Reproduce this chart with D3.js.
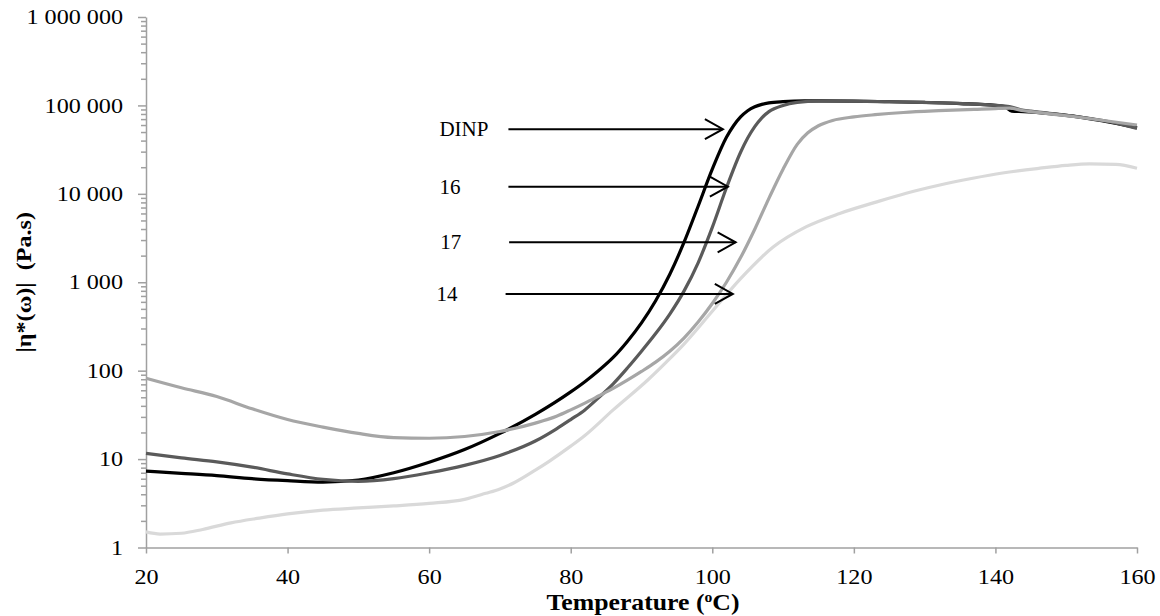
<!DOCTYPE html>
<html>
<head>
<meta charset="utf-8">
<script src="https://cdn.jsdelivr.net/npm/d3@7"></script>
<style>
  body { margin: 0; background: #fff; }
  svg { display: block; font-family: "Liberation Serif", "Times New Roman", serif; }
</style>
</head>
<body>
<div class="chart-container"></div>
<script>
// temperature (°C) and complex viscosity (Pa.s)
const dinpTemp = [20, 25, 30, 35, 40, 45, 50, 55, 60, 65, 70, 75, 80, 82, 84, 86, 88, 90, 92, 94, 96, 98, 100, 102, 103, 104, 105, 106, 107, 108, 110, 113, 120, 125, 130, 135, 140, 141.3, 142.3, 144, 150, 155, 160];
const dinpEta = [7.3, 6.9, 6.5, 6.0, 5.7, 5.5, 5.8, 7.0, 9.2, 12.8, 19.5, 32, 57.5, 75, 101, 141, 214, 347, 617, 1230, 2820, 7240, 19000, 43600, 58900, 74100, 87100, 96600, 102800, 106700, 110400, 112700, 112000, 110000, 108000, 105000, 100000, 97000, 86000, 85000, 77000, 67000, 56000];

const s16Temp = [20, 25, 30, 35, 40, 45, 50, 55, 60, 65, 70, 75, 78, 80, 82, 84, 86, 88, 90, 92, 94, 96, 98, 100, 102, 104, 105, 106, 107, 108, 110, 112, 115, 118, 125, 132, 140, 142, 144, 145, 151, 155, 160];
const s16Eta = [11.6, 10.3, 9.3, 8.1, 6.8, 5.9, 5.6, 6.0, 7.0, 8.5, 11, 16, 22, 28, 36, 50, 71, 107, 166, 263, 437, 794, 1660, 4170, 11700, 29500, 42700, 57500, 72400, 85100, 100000, 108000, 112000, 112000, 110000, 107000, 100000, 97000, 88000, 86000, 76000, 68000, 55000];

const s17Temp = [20, 25, 30, 35, 40, 45, 50, 55, 60, 65, 70, 75, 78, 80, 82, 84, 86, 88, 90, 92, 94, 96, 98, 100, 102, 104, 106, 108, 110, 112, 113.5, 115, 117, 120, 123, 127, 132, 137, 140, 142, 144, 145, 151, 155, 160];
const s17Eta = [82, 64, 51, 37, 28, 23, 19.5, 17.5, 17.2, 18, 20.5, 25.5, 30.5, 36, 43, 52, 63, 78, 98, 125, 166, 234, 355, 575, 1000, 1900, 3980, 8900, 19000, 36300, 49000, 58900, 67600, 74100, 78500, 83200, 87100, 90200, 92200, 93000, 87000, 85000, 75000, 68000, 60000];

const s14Temp = [20, 22, 25, 28, 32, 36, 40, 45, 50, 55, 60, 65, 68, 70, 72, 75, 77, 80, 82, 86, 91, 93.5, 96, 100, 104, 108.6, 113.3, 118, 123, 127.4, 132, 136.8, 141, 146.3, 150, 153.3, 157, 160];
const s14Eta = [1.5, 1.42, 1.45, 1.6, 1.9, 2.15, 2.4, 2.65, 2.8, 2.95, 3.15, 3.5, 4.1, 4.6, 5.4, 7.5, 9.5, 14, 18.5, 36, 80, 125, 200, 470, 1100, 2500, 4250, 6000, 8000, 10150, 12500, 15000, 17200, 19500, 21000, 21800, 21500, 19500];

// annotation arrows: label, eta level, start and tip temperature
const arrowLabels = ["DINP", "16", "17", "14"];
const arrowEta = [53800, 12050, 2830, 738];
const arrowFrom = [71.2, 71.2, 71.3, 70.8];
const arrowTo = [101.5, 102.2, 103.3, 102.9];

const xTicks = [20, 40, 60, 80, 100, 120, 140, 160];
const yTicks = [1, 10, 100, 1000, 10000, 100000, 1000000];

const series = [
  { name: "DINP", temp: dinpTemp, eta: dinpEta, color: "#000000" },
  { name: "16", temp: s16Temp, eta: s16Eta, color: "#5a5a5a" },
  { name: "17", temp: s17Temp, eta: s17Eta, color: "#a6a6a6" },
  { name: "14", temp: s14Temp, eta: s14Eta, color: "#d9d9d9" }
];

const width = 1160, height = 616;
const axisColor = "#a0a0a0";
const stretch = 1.15; // tick labels in the original are a bit wider than Liberation Serif

const svg = d3.select(".chart-container")
  .append("svg")
  .attr("width", width)
  .attr("height", height);

const x = d3.scaleLinear().domain([20, 160]).range([146, 1137]);
const y = d3.scaleLog().domain([1, 1e6]).range([547.5, 17]);

const spaced = d3.formatLocale({ decimal: ".", thousands: " ", grouping: [3], currency: ["", ""] }).format(",d");

// minor ticks on the log axis
const minorTicks = [];
yTicks.slice(0, -1).forEach(t => { for (let k = 2; k < 10; k++) minorTicks.push(t * k); });

svg.append("g")
  .attr("transform", `translate(${x.range()[0]},0)`)
  .call(d3.axisLeft(y).tickValues(minorTicks).tickSize(5).tickSizeOuter(0).tickFormat(""))
  .call(g => g.select(".domain").remove());

const yAxis = svg.append("g")
  .attr("transform", `translate(${x.range()[0]},0)`)
  .call(d3.axisLeft(y).tickValues(yTicks).tickSize(8).tickSizeOuter(0).tickPadding(15).tickFormat(spaced));

const xAxis = svg.append("g")
  .attr("transform", `translate(0,${y.range()[0]})`)
  .call(d3.axisBottom(x).tickValues(xTicks).tickSize(6).tickSizeOuter(0).tickPadding(15.5));

svg.selectAll(".tick line, .domain")
  .attr("stroke", axisColor)
  .attr("stroke-width", 1.5);

svg.selectAll(".tick text")
  .attr("fill", "#000")
  .style("font-family", "Liberation Serif")
  .style("font-size", "21px")
  .attr("transform", `scale(${stretch},1)`);

yAxis.selectAll(".tick text")
  .attr("x", -23 / stretch);

// curves
const line = d3.line()
  .x(d => x(d[0]))
  .y(d => y(d[1]))
  .curve(d3.curveMonotoneX);

svg.append("g")
  .selectAll("path")
  .data(series)
  .enter().append("path")
  .attr("fill", "none")
  .attr("stroke", d => d.color)
  .attr("stroke-width", 3.2)
  .attr("stroke-linejoin", "round")
  .attr("d", d => line(d.temp.map((t, i) => [t, d.eta[i]])));

// arrows with labels
const arrows = svg.append("g")
  .selectAll("g")
  .data(arrowLabels)
  .enter().append("g");

arrows.append("line")
  .attr("x1", (d, i) => x(arrowFrom[i]))
  .attr("x2", (d, i) => x(arrowTo[i]))
  .attr("y1", (d, i) => y(arrowEta[i]))
  .attr("y2", (d, i) => y(arrowEta[i]))
  .attr("stroke", "#000")
  .attr("stroke-width", 2);

arrows.append("path")
  .attr("fill", "none")
  .attr("stroke", "#000")
  .attr("stroke-width", 2)
  .attr("d", (d, i) => {
    const tx = x(arrowTo[i]), ty = y(arrowEta[i]);
    return `M${tx - 18},${ty - 10}L${tx},${ty}L${tx - 18},${ty + 10}`;
  });

arrows.append("text")
  .attr("x", (d, i) => x(arrowFrom[i]) - 69)
  .attr("y", (d, i) => y(arrowEta[i]) + 7)
  .style("font-size", "21px")
  .text(d => d);

// axis titles
svg.append("text")
  .attr("transform", `translate(31,${(y.range()[0] + y.range()[1]) / 2}) rotate(-90) scale(${stretch},1)`)
  .attr("text-anchor", "middle")
  .style("font-size", "21px")
  .style("font-weight", "bold")
  .style("white-space", "pre")
  .text("|\u03b7*(\u03c9)|  (Pa.s)");

const xTitle = svg.append("text")
  .attr("transform", `translate(643,610) scale(1.12,1)`)
  .attr("text-anchor", "middle")
  .style("font-size", "23px")
  .style("font-weight", "bold");
xTitle.append("tspan").text("Temperature (");
xTitle.append("tspan").attr("dy", -8).style("font-size", "14px").text("o");
xTitle.append("tspan").attr("dy", 8).text("C)");
</script>
</body>
</html>
